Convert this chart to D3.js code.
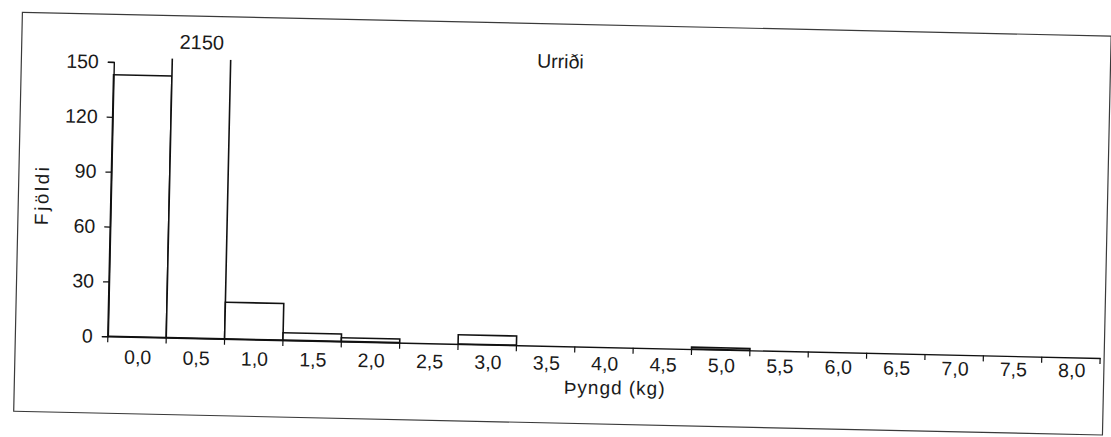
<!DOCTYPE html>
<html>
<head>
<meta charset="utf-8">
<script src="https://cdn.jsdelivr.net/npm/d3@7"></script>
<style>
  html, body { margin: 0; padding: 0; background: #ffffff; }
  svg { display: block; }
  text { font-family: "Liberation Sans", Arial, sans-serif; fill: #1a1a1a; }
</style>
</head>
<body>
<svg id="chart" width="1111" height="437"></svg>
<script>
// ---- data ----
const categories = ["0,0","0,5","1,0","1,5","2,0","2,5","3,0","3,5","4,0","4,5","5,0","5,5","6,0","6,5","7,0","7,5","8,0"];
const counts = [143, 2150, 20, 4, 2, 0, 5, 0, 0, 0, 1, 0, 0, 0, 0, 0, 0];
const yTicks = [0, 30, 60, 90, 120, 150];
const title = "Urriði";
const xTitle = "Þyngd (kg)";
const yTitle = "Fjöldi";

// ---- layout ----
const svg = d3.select("#chart");
// the scanned original is slightly skewed
const root = svg.append("g").attr("transform", "rotate(1.25,555,220)");
const lower = svg.append("g").attr("transform", "rotate(0.8,555,220)");

const left = 110.5, right = 1103, bottom = 346, top150 = 71.6;
const x = d3.scaleBand().domain(categories).range([left, right]).paddingInner(0).paddingOuter(0);
const y = d3.scaleLinear().domain([0, 150]).range([bottom, top150]);
const yClipTop = y(152.5);

// outer frame
root.append("rect")
  .attr("x", 18).attr("y", 24).attr("width", 1089).attr("height", 399)
  .attr("fill", "none").attr("stroke", "#3a3a3a").attr("stroke-width", 1.2);

// clip for bars
svg.append("defs").append("clipPath").attr("id", "plotclip")
  .append("rect").attr("x", left - 2).attr("y", yClipTop).attr("width", right - left + 4).attr("height", bottom - yClipTop + 2);

// bars
root.append("g").attr("clip-path", "url(#plotclip)")
  .selectAll("rect").data(categories.map((c, i) => ({ c, v: counts[i] })))
  .join("rect")
  .attr("x", d => x(d.c))
  .attr("y", d => y(d.v))
  .attr("width", x.bandwidth())
  .attr("height", d => bottom - y(d.v))
  .attr("fill", "#ffffff")
  .attr("stroke", "#111")
  .attr("stroke-width", 1.6);

// label for the off-scale bar
const big = categories.map((c, i) => ({ c, v: counts[i] })).filter(d => d.v > 150);
root.append("g").selectAll("text").data(big).join("text")
  .attr("x", d => x(d.c) + x.bandwidth() / 2)
  .attr("y", yClipTop - 10)
  .attr("text-anchor", "middle")
  .attr("font-size", 20)
  .text(d => d.v);

// y axis
const yAxis = root.append("g").attr("transform", `translate(${left},0)`)
  .call(d3.axisLeft(y).tickValues(yTicks).tickSize(6).tickPadding(9).tickFormat(d3.format("d")));
yAxis.select(".domain").attr("stroke", "#111").attr("stroke-width", 1.4);
yAxis.selectAll(".tick line").attr("stroke", "#111").attr("stroke-width", 1.2);
yAxis.selectAll(".tick text").attr("font-size", 19.5).attr("font-family", "Liberation Sans, Arial, sans-serif").attr("fill", "#1a1a1a");

// x axis line and ticks between bands
const xAxis = root.append("g").attr("transform", `translate(0,${bottom})`)
  .call(d3.axisBottom(x).tickSize(0).tickFormat("").tickSizeOuter(0));
xAxis.select(".domain").attr("stroke", "#111").attr("stroke-width", 1.4);
const edges = categories.map(c => x(c)).concat([x(categories[categories.length - 1]) + x.bandwidth()]);
xAxis.append("g").selectAll("line").data(edges).join("line")
  .attr("x1", d => d).attr("x2", d => d).attr("y1", 0).attr("y2", 6)
  .attr("stroke", "#111").attr("stroke-width", 1.2);

// x tick labels centred in bands
const xLabels = lower.append("g").attr("transform", `translate(0,${bottom})`)
  .call(d3.axisBottom(x).tickSize(0).tickPadding(10).tickSizeOuter(0));
xLabels.select(".domain").remove();
xLabels.selectAll(".tick text").attr("font-size", 19.5).attr("font-family", "Liberation Sans, Arial, sans-serif").attr("fill", "#1a1a1a");

// titles
root.append("text")
  .attr("x", 557).attr("y", 68)
  .attr("text-anchor", "middle").attr("font-size", 19.5)
  .text(title);

lower.append("text")
  .attr("x", 617).attr("y", 393.5)
  .attr("text-anchor", "middle").attr("font-size", 19)
  .attr("letter-spacing", 1)
  .text(xTitle);

root.append("text")
  .attr("transform", "translate(48,206) rotate(-90)")
  .attr("text-anchor", "middle").attr("font-size", 19)
  .attr("letter-spacing", 2.5)
  .text(yTitle);
</script>
</body>
</html>
